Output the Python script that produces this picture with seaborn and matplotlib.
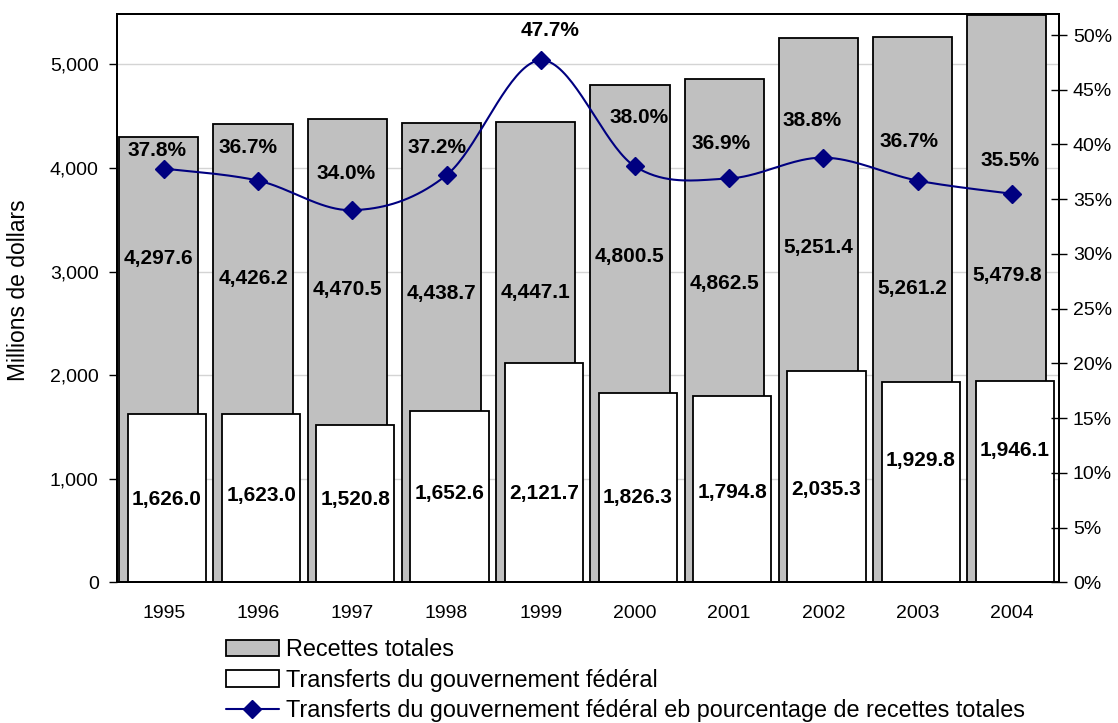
import numpy as np
import matplotlib
matplotlib.use("Agg")
import matplotlib.pyplot as plt
import seaborn as sns
from matplotlib.patches import Patch
from matplotlib.lines import Line2D
from matplotlib.ticker import PercentFormatter, FuncFormatter, MultipleLocator

# ---------------- data ----------------
years = ["1995", "1996", "1997", "1998", "1999", "2000", "2001", "2002", "2003", "2004"]
recettes = [4297.6, 4426.2, 4470.5, 4438.7, 4447.1, 4800.5, 4862.5, 5251.4, 5261.2, 5479.8]
transferts = [1626.0, 1623.0, 1520.8, 1652.6, 2121.7, 1826.3, 1794.8, 2035.3, 1929.8, 1946.1]
pourcentage = [37.8, 36.7, 34.0, 37.2, 47.7, 38.0, 36.9, 38.8, 36.7, 35.5]

legend_labels = ["Recettes totales",
                 "Transferts du gouvernement fédéral",
                 "Transferts du gouvernement fédéral eb pourcentage de recettes totales"]
ylabel = "Millions de dollars"

# ---------------- label placement (style) ----------------
rec_label_y = [3127, 2934, 2828, 2790, 2799, 3147, 2886, 3233, 2838, 2963]
tr_label_y = [802, 841, 802, 861, 861, 822, 871, 900, 1180, 1276]
pct_label_off = [(-7, 18), (-10, 33), (-6, 37), (-10, 28), (9, 30),
                 (4, 49), (-8, 35), (-11, 37), (-9, 39), (-2, 33)]

GRAY = "#C0C0C0"
NAVY = "#000080"

sns.set_style("white")
plt.rcParams["font.family"] = ["Liberation Sans", "DejaVu Sans"]
plt.rcParams["text.color"] = "black"
plt.rcParams["axes.labelcolor"] = "black"
plt.rcParams["xtick.color"] = "black"
plt.rcParams["ytick.color"] = "black"

fig = plt.figure(figsize=(11.18, 7.23), dpi=100)
ax = fig.add_axes([0.1044, 0.1946, 0.8428, 0.786])

GOFF, WOFF = -0.053, 0.032

sns.barplot(x=years, y=recettes, color=GRAY, saturation=1, edgecolor="black",
            linewidth=1.3, width=0.84, ax=ax, zorder=2)
n0 = len(ax.patches)
for p in ax.patches:
    p.set_x(p.get_x() + GOFF)
sns.barplot(x=years, y=transferts, color="white", saturation=1, edgecolor="black",
            linewidth=1.3, width=0.83, ax=ax, zorder=3)
for p in ax.patches[n0:]:
    p.set_x(p.get_x() + WOFF)

LBL = dict(ha="center", va="center", fontsize=15, fontweight="bold", color="black", zorder=5)
for i, v in enumerate(recettes):
    ax.text(i + GOFF, rec_label_y[i], f"{v:,.1f}", **LBL)
for i, v in enumerate(transferts):
    ax.text(i + WOFF, tr_label_y[i], f"{v:,.1f}", **LBL)

ax.set_xlim(-0.5, 9.5)
ax.set_ylim(0, 5486)
ax.yaxis.set_major_locator(MultipleLocator(1000))
ax.yaxis.set_major_formatter(FuncFormatter(lambda v, p: f"{v:,.0f}"))
ax.set_axisbelow(True)
ax.yaxis.grid(True, color="#d4d4d4", lw=1)
ax.xaxis.grid(False)
ax.set_xlabel("")
ax.set_ylabel("")
ax.set_xticks(np.arange(-0.5, 9.6, 1.0), labels=[""] * 11)
ax.set_xticks(np.arange(len(years)), labels=years, minor=True)
ax.tick_params(axis="x", which="major", direction="out", length=6, width=1, color="black")
ax.tick_params(axis="x", which="minor", length=0, pad=16, labelsize=14, labelcolor="black")
ax.tick_params(axis="y", direction="out", length=6, width=1, color="black", pad=7,
               labelsize=14, labelcolor="black", left=True)
for s in ax.spines.values():
    s.set_color("black")
    s.set_linewidth(1.4)
    s.set_visible(True)

# ---------------- line on secondary axis ----------------
ax2 = ax.twinx()
xs = np.arange(len(pourcentage), dtype=float)
ys = np.array(pourcentage, dtype=float)
pts = np.column_stack([xs, ys])
cx, cy = [], []
t = np.linspace(0, 1, 40)
for i in range(len(pts) - 1):
    P0 = pts[i - 1] if i > 0 else pts[i]
    P1 = pts[i]
    P2 = pts[i + 1]
    P3 = pts[i + 2] if i + 2 < len(pts) else pts[i + 1]
    C1 = P1 + (P2 - P0) / 6.0
    C2 = P2 - (P3 - P1) / 6.0
    b = ((1 - t) ** 3)[:, None] * P1 + (3 * (1 - t) ** 2 * t)[:, None] * C1 \
        + (3 * (1 - t) * t ** 2)[:, None] * C2 + (t ** 3)[:, None] * P2
    cx.extend(b[:, 0]); cy.extend(b[:, 1])
ax2.plot(cx, cy, color=NAVY, lw=1.5, zorder=4)
ax2.plot(xs, ys, linestyle="none", marker="D", markersize=9.5, color=NAVY, zorder=5)
for i, v in enumerate(pourcentage):
    ax2.annotate(f"{v:.1f}%", (i, v), xytext=pct_label_off[i], textcoords="offset pixels",
                 ha="center", va="center", fontsize=15, fontweight="bold", color="black", zorder=6)
ax2.set_ylim(0, 51.92)
ax2.yaxis.set_major_locator(MultipleLocator(5))
ax2.yaxis.set_major_formatter(PercentFormatter(100, decimals=0))
ax2.tick_params(axis="y", direction="inout", length=12, width=1, color="black", pad=4,
                labelsize=14, labelcolor="black", right=True)
ax2.grid(False)
for s in ax2.spines.values():
    s.set_color("black")
    s.set_linewidth(1.4)

fig.text(19 / 1118, 1 - 290 / 723, ylabel, rotation=90, ha="center", va="center",
         fontsize=16.5, color="black")

handles = [Patch(facecolor=GRAY, edgecolor="black", linewidth=1.3),
           Patch(facecolor="white", edgecolor="black", linewidth=1.3),
           Line2D([0], [0], color=NAVY, lw=1.5, marker="D", markersize=9)]
fig.legend(handles, legend_labels, loc="upper left", bbox_to_anchor=(226 / 1118, 1 - 638 / 723),
           frameon=False, fontsize=16.8, handlelength=2.25, handleheight=0.7,
           handletextpad=0.3, labelspacing=0.33, borderpad=0, borderaxespad=0,
           labelcolor="black")

fig.savefig("out.png", dpi=100)
